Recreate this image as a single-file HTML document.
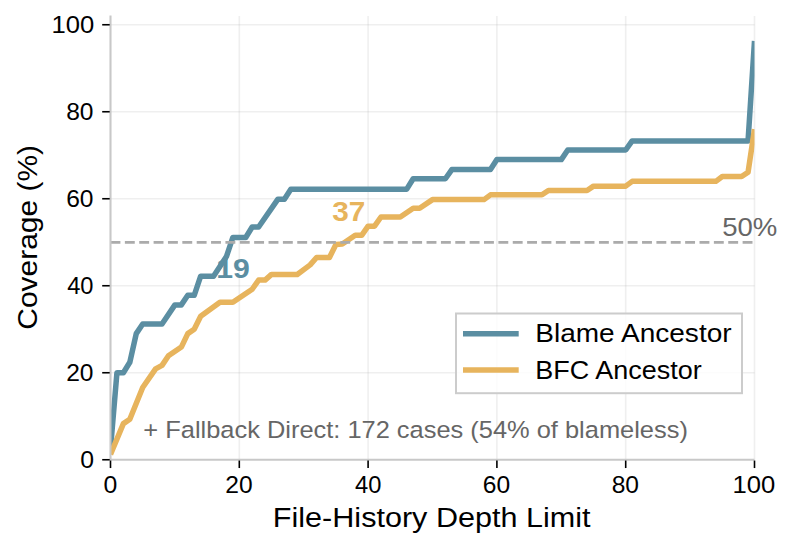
<!DOCTYPE html>
<html><head><meta charset="utf-8"><style>html,body{margin:0;padding:0;background:#fff;width:794px;height:549px;overflow:hidden}svg{display:block}</style></head>
<body><svg width="794" height="549" viewBox="0 0 794 549" font-family="'Liberation Sans', sans-serif"><rect width="794" height="549" fill="#fff"/><g stroke="#b0b0b0" stroke-opacity="0.2" stroke-width="1.6"><line x1="110.50" y1="15.9" x2="110.50" y2="459.75"/><line x1="239.30" y1="15.9" x2="239.30" y2="459.75"/><line x1="368.10" y1="15.9" x2="368.10" y2="459.75"/><line x1="496.90" y1="15.9" x2="496.90" y2="459.75"/><line x1="625.70" y1="15.9" x2="625.70" y2="459.75"/><line x1="754.50" y1="15.9" x2="754.50" y2="459.75"/><line x1="110.5" y1="372.75" x2="754.50" y2="372.75"/><line x1="110.5" y1="285.75" x2="754.50" y2="285.75"/><line x1="110.5" y1="198.75" x2="754.50" y2="198.75"/><line x1="110.5" y1="111.75" x2="754.50" y2="111.75"/><line x1="110.5" y1="24.75" x2="754.50" y2="24.75"/></g><defs><clipPath id="ax"><rect x="110.5" y="15.5" width="644.00" height="444.25"/></clipPath></defs><g clip-path="url(#ax)" fill="none" stroke-width="5.5" stroke-linejoin="round" stroke-linecap="butt"><path d="M110.50,448.88 L116.94,372.75 L123.38,372.75 L129.82,362.31 L136.26,333.60 L142.70,324.03 L162.02,324.03 L174.90,304.89 L181.34,304.89 L187.78,295.32 L194.22,295.32 L200.66,276.18 L213.54,276.18 L226.42,256.61 L232.86,237.47 L245.74,237.47 L252.18,227.03 L258.62,227.03 L277.94,199.19 L284.38,199.19 L290.82,189.18 L406.74,189.18 L413.18,178.74 L445.38,178.74 L451.82,169.61 L490.46,169.61 L496.90,159.60 L561.30,159.60 L567.74,150.03 L625.70,150.03 L632.14,140.90 L748.06,140.90 L754.50,40.85" stroke="#5b8ea2"/><path d="M110.50,454.53 L123.38,423.64 L129.82,419.30 L142.70,387.54 L155.58,368.84 L162.02,365.36 L168.46,355.79 L181.34,347.09 L187.78,333.60 L194.22,329.25 L200.66,316.20 L219.98,302.28 L232.86,302.28 L252.18,289.23 L258.62,280.10 L265.06,280.10 L271.50,274.44 L297.26,274.44 L310.14,264.87 L316.58,257.48 L329.46,257.48 L335.90,244.43 L342.34,243.99 L355.22,235.29 L361.66,235.29 L368.10,226.16 L374.54,226.16 L380.98,217.02 L400.30,217.02 L413.18,208.32 L419.62,208.32 L432.50,199.62 L484.02,199.62 L490.46,194.84 L541.98,194.84 L548.42,190.49 L587.06,190.49 L593.50,186.14 L625.70,186.14 L632.14,181.35 L715.86,181.35 L722.30,176.57 L741.62,176.57 L748.06,172.22 L754.50,129.15" stroke="#e7b45d"/><line x1="110.5" y1="242.45" x2="754.50" y2="242.45" stroke="#ababab" stroke-width="2.7" stroke-dasharray="9.9 4.466"/></g><text transform="translate(216.26,278.00) scale(1.1185,1)" font-size="27" font-weight="bold" fill="#5b8ea2">19</text><text transform="translate(332.30,221.00) scale(1.1036,1)" font-size="27" font-weight="bold" fill="#e7b45d">37</text><text transform="translate(143.32,437.90) scale(1.0822,1)" font-size="23.5" font-weight="normal" fill="#666666">+ Fallback Direct: 172 cases (54% of blameless)</text><text transform="translate(722.14,236.20) scale(1.0600,1)" font-size="26" font-weight="normal" fill="#666666">50%</text><g stroke="#c8c8c8" stroke-width="2"><line x1="110.5" y1="15.5" x2="110.5" y2="460.75"/><line x1="109.5" y1="459.75" x2="754.50" y2="459.75"/></g><g stroke="#000" stroke-width="1.6"><line x1="110.50" y1="460.55" x2="110.50" y2="468.05"/><line x1="239.30" y1="460.55" x2="239.30" y2="468.05"/><line x1="368.10" y1="460.55" x2="368.10" y2="468.05"/><line x1="496.90" y1="460.55" x2="496.90" y2="468.05"/><line x1="625.70" y1="460.55" x2="625.70" y2="468.05"/><line x1="754.50" y1="460.55" x2="754.50" y2="468.05"/><line x1="109.7" y1="459.75" x2="102.2" y2="459.75"/><line x1="109.7" y1="372.75" x2="102.2" y2="372.75"/><line x1="109.7" y1="285.75" x2="102.2" y2="285.75"/><line x1="109.7" y1="198.75" x2="102.2" y2="198.75"/><line x1="109.7" y1="111.75" x2="102.2" y2="111.75"/><line x1="109.7" y1="24.75" x2="102.2" y2="24.75"/></g><g><text transform="translate(103.41,493.00) scale(1.0125,1)" font-size="24.5" font-weight="normal" fill="#000">0</text><text transform="translate(225.25,493.00) scale(1.0038,1)" font-size="24.5" font-weight="normal" fill="#000">20</text><text transform="translate(355.05,493.00) scale(0.9667,1)" font-size="24.5" font-weight="normal" fill="#000">40</text><text transform="translate(482.85,493.00) scale(1.0038,1)" font-size="24.5" font-weight="normal" fill="#000">60</text><text transform="translate(611.65,493.00) scale(1.0038,1)" font-size="24.5" font-weight="normal" fill="#000">80</text><text transform="translate(732.51,493.00) scale(1.0474,1)" font-size="24.5" font-weight="normal" fill="#000">100</text><text transform="translate(80.14,468.40) scale(1.0125,1)" font-size="24.5" font-weight="normal" fill="#000">0</text><text transform="translate(66.20,381.40) scale(1.0038,1)" font-size="24.5" font-weight="normal" fill="#000">20</text><text transform="translate(67.20,294.40) scale(0.9667,1)" font-size="24.5" font-weight="normal" fill="#000">40</text><text transform="translate(66.20,207.40) scale(1.0038,1)" font-size="24.5" font-weight="normal" fill="#000">60</text><text transform="translate(66.20,120.40) scale(1.0038,1)" font-size="24.5" font-weight="normal" fill="#000">80</text><text transform="translate(51.41,33.40) scale(1.0474,1)" font-size="24.5" font-weight="normal" fill="#000">100</text></g><text transform="translate(272.85,526.90) scale(1.0731,1)" font-size="28.5" font-weight="normal" fill="#000">File-History Depth Limit</text><text transform="translate(36.8,329.65) rotate(-90) scale(1.0509,1)" font-size="28.5" fill="#000">Coverage (%)</text><rect x="456" y="313.5" width="286" height="79.7" fill="#fff" fill-opacity="0.8" stroke="#cccccc" stroke-width="2"/><line x1="463.0" y1="333.7" x2="518.7" y2="333.7" stroke="#5b8ea2" stroke-width="5.5"/><line x1="463.0" y1="370.0" x2="518.7" y2="370.0" stroke="#e7b45d" stroke-width="5.5"/><text transform="translate(535.24,342.20) scale(1.0789,1)" font-size="26" font-weight="normal" fill="#000">Blame Ancestor</text><text transform="translate(535.32,379.00) scale(1.0380,1)" font-size="26" font-weight="normal" fill="#000">BFC Ancestor</text></svg></body></html>
